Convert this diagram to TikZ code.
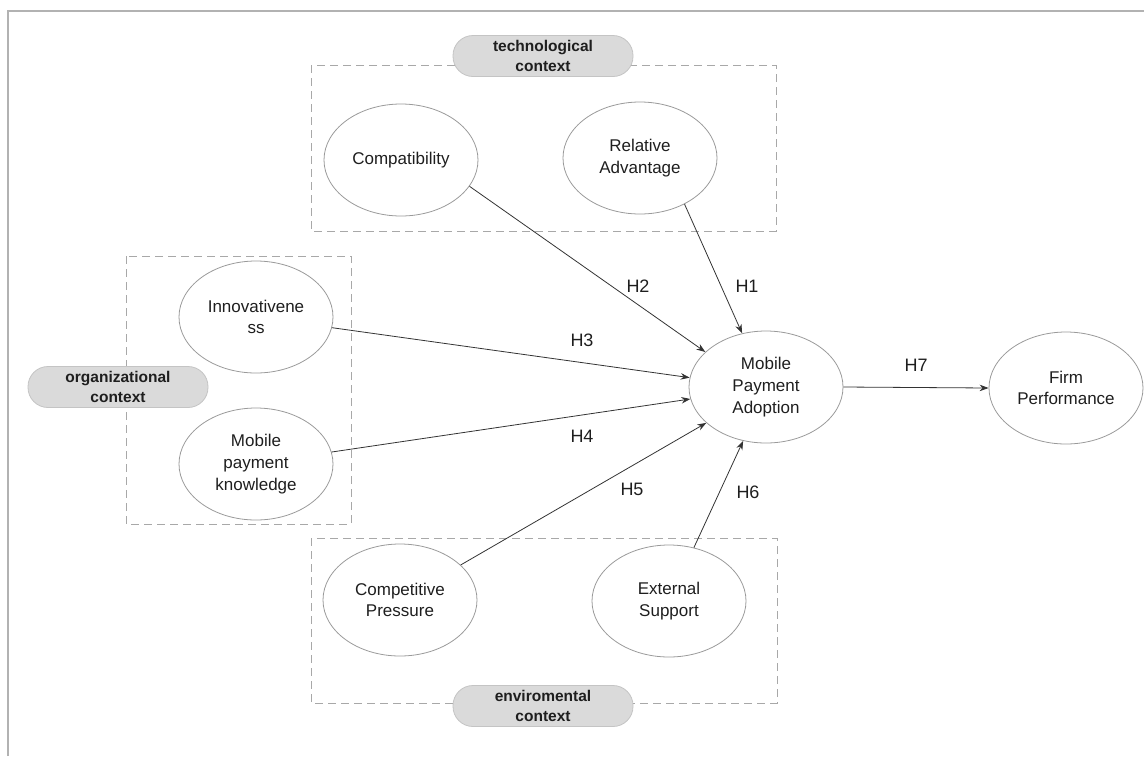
\documentclass[tikz,border=0pt]{standalone}
\usepackage{fontspec}
\setmainfont{Liberation Sans}
\usetikzlibrary{shapes.geometric,arrows.meta}
\definecolor{ebord}{HTML}{9A9A9A}
\definecolor{dbord}{HTML}{A8A8A8}
\definecolor{pillfill}{HTML}{DADADA}
\definecolor{pillbord}{HTML}{C4C4C4}
\definecolor{txt}{HTML}{1E1E1E}
\definecolor{arr}{HTML}{333333}
\tikzset{
  construct/.style={ellipse, draw=ebord, line width=0.8pt, minimum width=154pt, minimum height=112pt, inner sep=0pt, align=center, text=txt, font=\fontsize{17}{21.7}\selectfont},
  ctxbox/.style={draw=dbord, line width=0.9pt, dash pattern=on 8pt off 5pt},
  pill/.style={draw=pillbord, fill=pillfill, line width=0.8pt, rounded corners=20pt, minimum width=180pt, minimum height=41pt, inner sep=0pt, align=center, text=txt, font=\fontsize{15.5}{20.5}\selectfont\bfseries},
  link/.style={draw=arr, line width=0.8pt, -{Stealth[length=9pt,width=6.5pt]}},
  hlab/.style={text=txt, font=\fontsize{18}{20}\selectfont, inner sep=0pt},
}
\begin{document}
\begin{tikzpicture}[x=1pt,y=-1pt]
\useasboundingbox (0,0) rectangle (1144,756);
% outer frame (top and left only visible)
\draw[draw=gray!60, line width=1.2pt] (8,756) -- (8,11) -- (1144,11);

% context boxes
\draw[ctxbox] (311,65) rectangle (776,231);
\draw[ctxbox] (126,256) rectangle (351,524);
\draw[ctxbox] (311,538) rectangle (777,703);

% pills
\node[pill] (ptech) at (543,56) {technological\\context};
\node[pill] (porg) at (118,387) {organizational\\context};
\node[pill] (penv) at (543,706) {enviromental\\context};

% constructs
\node[construct] (comp) at (401,160) {Compatibility};
\node[construct] (ra) at (640,158) {Relative\\Advantage};
\node[construct] (inno) at (256,317) {Innovativene\\ss};
\node[construct] (know) at (256,464) {Mobile\\payment\\knowledge};
\node[construct] (mpa) at (766,387) {Mobile\\Payment\\Adoption};
\node[construct] (fp) at (1066,388) {Firm\\Performance};
\node[construct] (cp) at (400,600) {Competitive\\Pressure};
\node[construct] (es) at (669,601) {External\\Support};

% links
\draw[link] (ra.-46) -- (mpa.114);
\draw[link] (comp.-21) -- (mpa.150);
\draw[link] (inno.-8) -- (mpa.173);
\draw[link] (know.9) -- (mpa.189);
\draw[link] (cp.30) -- (mpa.211);
\draw[link] (es.65) -- (mpa.247);
\draw[link] (mpa.east) -- (fp.west);

% hypothesis labels
\node[hlab] (h1) at (747,286) {H1};
\node[hlab] (h2) at (638,286) {H2};
\node[hlab] (h3) at (582,340) {H3};
\node[hlab] (h4) at (582,436) {H4};
\node[hlab] (h5) at (632,489) {H5};
\node[hlab] (h6) at (748,492) {H6};
\node[hlab] (h7) at (916,365) {H7};
\end{tikzpicture}
\end{document}
